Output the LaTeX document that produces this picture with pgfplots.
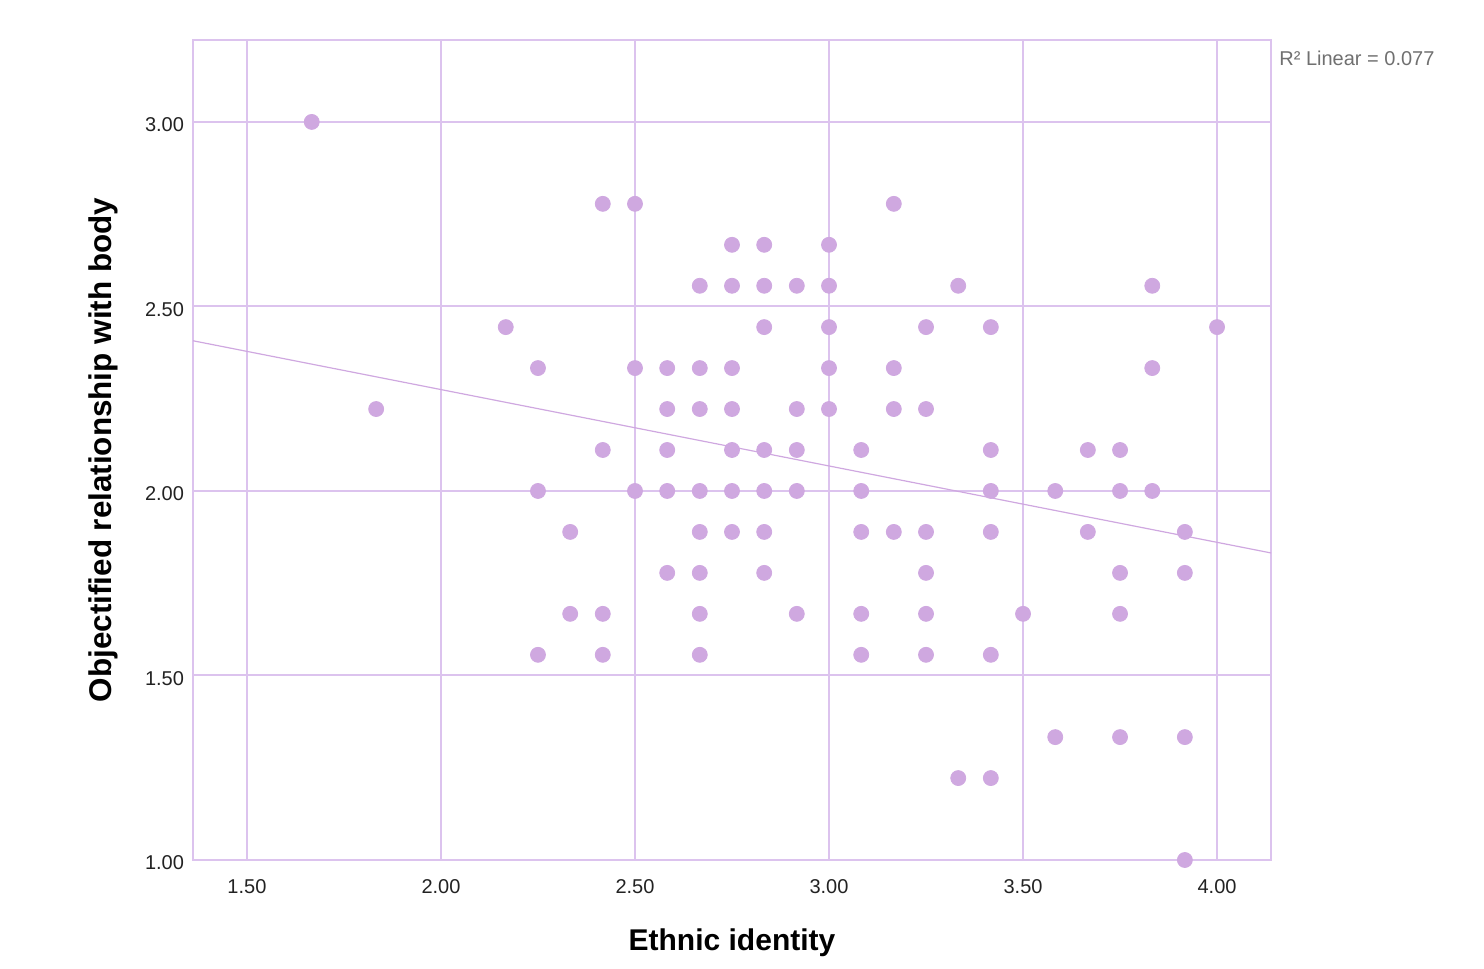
\documentclass[border=0pt]{standalone}
\usepackage{pgfplots}
\pgfplotsset{compat=1.18}
\usepackage{fontspec}
\setmainfont{Liberation Sans}
\definecolor{gridc}{HTML}{DCC3EE}
\definecolor{ptc}{HTML}{CFA8E0}
\definecolor{tickc}{HTML}{222222}
\definecolor{rc}{HTML}{707070}
\begin{document}
\begin{tikzpicture}
\begin{axis}[
  at={(0,0)}, anchor=south west,
  scale only axis, width=539pt, height=410pt,
  xmin=1.361, xmax=4.139, ymin=1.0, ymax=3.222,
  xtick={1.5,2.0,2.5,3.0,3.5,4.0},
  ytick={1.0,1.5,2.0,2.5,3.0},
  xticklabels={1.50,2.00,2.50,3.00,3.50,4.00},
  yticklabels={1.00,1.50,2.00,2.50,3.00},
  major tick length=0pt,
  grid=major,
  major grid style={color=gridc, line width=1pt},
  axis line style={color=gridc, line width=1pt},
  tick label style={font=\fontsize{10}{12}\selectfont, text=tickc},
  xticklabel style={yshift=-6pt},
  yticklabel style={xshift=-1pt, yshift=-1.5pt},
  xlabel={Ethnic identity},
  ylabel={Objectified relationship with body},
  label style={font=\fontsize{15}{18}\selectfont\bfseries},
  xlabel style={at={(rel axis cs:0.5,-0.1012)}, anchor=center},
  ylabel style={at={(rel axis cs:-0.0835,0.5)}, anchor=center, font=\fontsize{15.7}{18}\selectfont\bfseries},
  clip=false,
]
\addplot[only marks, mark=*, mark size=3.75pt, mark options={fill=ptc, draw=ptc}] table[row sep=\\] {
x y\\
1.667 3.000\\
2.417 2.778\\ 2.500 2.778\\ 3.167 2.778\\
2.750 2.667\\ 2.833 2.667\\ 3.000 2.667\\
2.667 2.556\\ 2.750 2.556\\ 2.833 2.556\\ 2.917 2.556\\ 3.000 2.556\\ 3.333 2.556\\ 3.833 2.556\\
2.167 2.444\\ 2.833 2.444\\ 3.000 2.444\\ 3.250 2.444\\ 3.417 2.444\\ 4.000 2.444\\
2.250 2.333\\ 2.500 2.333\\ 2.583 2.333\\ 2.667 2.333\\ 2.750 2.333\\ 3.000 2.333\\ 3.167 2.333\\ 3.833 2.333\\
1.833 2.222\\ 2.583 2.222\\ 2.667 2.222\\ 2.750 2.222\\ 2.917 2.222\\ 3.000 2.222\\ 3.167 2.222\\ 3.250 2.222\\
2.417 2.111\\ 2.583 2.111\\ 2.750 2.111\\ 2.833 2.111\\ 2.917 2.111\\ 3.083 2.111\\ 3.417 2.111\\ 3.667 2.111\\ 3.750 2.111\\
2.250 2.000\\ 2.500 2.000\\ 2.583 2.000\\ 2.667 2.000\\ 2.750 2.000\\ 2.833 2.000\\ 2.917 2.000\\ 3.083 2.000\\ 3.417 2.000\\ 3.583 2.000\\ 3.750 2.000\\ 3.833 2.000\\
2.333 1.889\\ 2.667 1.889\\ 2.750 1.889\\ 2.833 1.889\\ 3.083 1.889\\ 3.167 1.889\\ 3.250 1.889\\ 3.417 1.889\\ 3.667 1.889\\ 3.917 1.889\\
2.583 1.778\\ 2.667 1.778\\ 2.833 1.778\\ 3.250 1.778\\ 3.750 1.778\\ 3.917 1.778\\
2.333 1.667\\ 2.417 1.667\\ 2.667 1.667\\ 2.917 1.667\\ 3.083 1.667\\ 3.250 1.667\\ 3.500 1.667\\ 3.750 1.667\\
2.250 1.556\\ 2.417 1.556\\ 2.667 1.556\\ 3.083 1.556\\ 3.250 1.556\\ 3.417 1.556\\
3.583 1.333\\ 3.750 1.333\\ 3.917 1.333\\
3.333 1.222\\ 3.417 1.222\\
3.917 1.000\\
};
\addplot[color=ptc, line width=0.6pt, no marks] coordinates {(1.361,2.407) (4.139,1.832)};
\node[anchor=west, text=rc, font=\fontsize{10}{12}\selectfont, inner sep=0pt] at (rel axis cs:1.0074,0.978) {R² Linear = 0.077};
\end{axis}
\pgfresetboundingbox
\path (-96.5pt,-54.5pt) rectangle (645.5pt,430pt);
\end{tikzpicture}
\end{document}
